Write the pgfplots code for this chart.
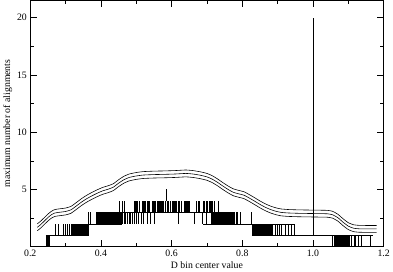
\documentclass[border=0pt]{standalone}
\usepackage{fontspec}
\setmainfont{Liberation Serif}
\usepackage{pgfplots}
\pgfplotsset{compat=1.18}
\pgfplotsset{steps/.style={draw=none, mark=none, forget plot,
  error bars/.cd, y dir=plus, y fixed=1, error mark=none,
  error bar style={draw=black, solid, line width=0.55pt}}}
\begin{document}
\begin{tikzpicture}
\begin{axis}[
  scale only axis, width=360bp, height=251bp,
  xmin=0.2, xmax=1.2, ymin=0, ymax=21.5,
  xtick={0.2,0.4,0.6,0.8,1.0,1.2}, minor x tick num=1,
  ytick={5,10,15,20}, minor ytick={2.5,7.5,12.5,17.5},
  tick align=inside, xtick pos=both, ytick pos=both,
  xticklabel pos=lower, yticklabel pos=left,
  major tick length=6.5bp, minor tick length=3.5bp,
  every tick/.style={black, line width=0.6pt},
  axis line style={line width=0.8pt},
  /pgf/number format/assume math mode=true,
  x tick label style={/pgf/number format/.cd, fixed, fixed zerofill, precision=1},
  tick label style={font=\fontsize{10}{12}\selectfont},
  label style={font=\fontsize{10}{12}\selectfont},
  xlabel={D bin center value}, ylabel={maximum number of alignments},
  xlabel style={yshift=2bp}, ylabel style={yshift=-2bp},
]
% smooth envelope curves
\addplot[black, line width=0.6pt, smooth, tension=0.3] coordinates {
(0.220,2.00)(0.230,2.25)(0.240,2.55)(0.250,2.85)(0.260,3.10)(0.270,3.25)(0.285,3.32)(0.300,3.38)(0.315,3.52)(0.330,3.85)(0.345,4.20)(0.360,4.50)(0.375,4.75)(0.390,4.98)(0.405,5.18)(0.420,5.32)(0.435,5.50)(0.450,5.85)(0.465,6.15)(0.480,6.35)(0.500,6.48)(0.520,6.56)(0.550,6.60)(0.580,6.62)(0.610,6.65)(0.640,6.70)(0.660,6.65)(0.680,6.55)(0.700,6.40)(0.715,6.20)(0.730,5.92)(0.745,5.60)(0.760,5.30)(0.775,5.05)(0.790,4.92)(0.805,4.80)(0.820,4.55)(0.835,4.28)(0.850,4.00)(0.865,3.75)(0.880,3.55)(0.895,3.40)(0.910,3.30)(0.930,3.25)(0.960,3.22)(1.000,3.20)(1.040,3.18)(1.055,3.10)(1.070,2.85)(1.085,2.45)(1.100,2.10)(1.115,1.92)(1.130,1.87)(1.150,1.86)(1.180,1.86)};
\addplot[black, line width=0.6pt, smooth, tension=0.3] coordinates {
(0.220,1.70)(0.230,1.95)(0.240,2.25)(0.250,2.55)(0.260,2.80)(0.270,2.95)(0.285,3.02)(0.300,3.08)(0.315,3.22)(0.330,3.55)(0.345,3.90)(0.360,4.20)(0.375,4.45)(0.390,4.68)(0.405,4.88)(0.420,5.02)(0.435,5.20)(0.450,5.55)(0.465,5.85)(0.480,6.05)(0.500,6.18)(0.520,6.26)(0.550,6.30)(0.580,6.32)(0.610,6.35)(0.640,6.40)(0.660,6.35)(0.680,6.25)(0.700,6.10)(0.715,5.90)(0.730,5.62)(0.745,5.30)(0.760,5.00)(0.775,4.75)(0.790,4.62)(0.805,4.50)(0.820,4.25)(0.835,3.98)(0.850,3.70)(0.865,3.45)(0.880,3.25)(0.895,3.10)(0.910,3.00)(0.930,2.95)(0.960,2.92)(1.000,2.90)(1.040,2.88)(1.055,2.80)(1.070,2.55)(1.085,2.15)(1.100,1.80)(1.115,1.62)(1.130,1.57)(1.150,1.56)(1.180,1.56)};
\addplot[black, line width=0.6pt, smooth, tension=0.3] coordinates {
(0.220,1.40)(0.230,1.65)(0.240,1.95)(0.250,2.25)(0.260,2.50)(0.270,2.65)(0.285,2.72)(0.300,2.78)(0.315,2.92)(0.330,3.25)(0.345,3.60)(0.360,3.90)(0.375,4.15)(0.390,4.38)(0.405,4.58)(0.420,4.72)(0.435,4.90)(0.450,5.25)(0.465,5.55)(0.480,5.75)(0.500,5.88)(0.520,5.96)(0.550,6.00)(0.580,6.02)(0.610,6.05)(0.640,6.10)(0.660,6.05)(0.680,5.95)(0.700,5.80)(0.715,5.60)(0.730,5.32)(0.745,5.00)(0.760,4.70)(0.775,4.45)(0.790,4.32)(0.805,4.20)(0.820,3.95)(0.835,3.68)(0.850,3.40)(0.865,3.15)(0.880,2.95)(0.895,2.80)(0.910,2.70)(0.930,2.65)(0.960,2.62)(1.000,2.60)(1.040,2.58)(1.055,2.50)(1.070,2.25)(1.085,1.85)(1.100,1.50)(1.115,1.32)(1.130,1.27)(1.150,1.26)(1.180,1.26)};
% rest levels
\addplot[black, line width=0.5pt] coordinates {(0.244,1)(0.366,1)};
\addplot[black, line width=0.5pt] coordinates {(0.827,1)(1.170,1)};
\addplot[black, line width=0.5pt] coordinates {(0.364,2)(0.461,2)};
\addplot[black, line width=0.5pt] coordinates {(0.690,2)(0.950,2)};
\addplot[black, line width=0.5pt] coordinates {(0.388,3)(0.735,3)};
% spike at D = 1
\addplot[black, line width=0.6pt] coordinates {(1.0,1)(1.0,20)};
% steps 0 -> 1
\addplot[steps] coordinates {
(0.2440,0)(0.2455,0)(0.2470,0)(0.2485,0)(0.2500,0)(0.2515,0)(0.2530,0)(0.2545,0)
(1.056,0)(1.059,0)(1.061,0)(1.064,0)(1.066,0)(1.069,0)(1.072,0)(1.075,0)(1.077,0)(1.080,0)(1.083,0)(1.086,0)(1.088,0)(1.091,0)(1.094,0)(1.097,0)(1.100,0)(1.104,0)(1.109,0)(1.116,0)(1.121,0)(1.127,0)(1.136,0)(1.161,0)};
% steps 1 -> 2
\addplot[steps] coordinates {
(0.272,1)(0.279,1)(0.2925,1)(0.299,1)(0.306,1)(0.311,1)(0.316,1)
(0.3200,1)(0.3215,1)(0.3230,1)(0.3245,1)(0.3260,1)(0.3275,1)(0.3290,1)(0.3305,1)(0.3320,1)(0.3335,1)(0.3350,1)(0.3365,1)(0.3380,1)(0.3395,1)(0.3410,1)(0.3425,1)(0.3440,1)(0.3455,1)(0.3470,1)(0.3485,1)(0.3500,1)(0.3515,1)(0.3530,1)(0.3545,1)(0.3560,1)(0.3575,1)(0.3590,1)(0.3605,1)(0.3620,1)(0.3635,1)(0.3650,1)
(0.8270,1)(0.8288,1)(0.8306,1)(0.8324,1)(0.8342,1)(0.8360,1)(0.8378,1)(0.8396,1)(0.8414,1)(0.8432,1)(0.8450,1)(0.8468,1)(0.8486,1)(0.8504,1)(0.8522,1)(0.8540,1)(0.8558,1)(0.8576,1)(0.8594,1)(0.8612,1)(0.8630,1)(0.8648,1)(0.8666,1)(0.8684,1)(0.8702,1)(0.8720,1)(0.8738,1)(0.8756,1)(0.8774,1)(0.8800,1)(0.8830,1)(0.8860,1)
(0.893,1)(0.899,1)(0.904,1)(0.910,1)(0.921,1)(0.929,1)(0.938,1)(0.948,1)};
% steps 2 -> 3
\addplot[steps] coordinates {
(0.364,2)(0.369,2)
(0.3880,2)(0.3895,2)(0.3910,2)(0.3925,2)(0.3940,2)(0.3955,2)(0.3970,2)(0.3985,2)(0.4000,2)(0.4015,2)(0.4030,2)(0.4045,2)(0.4060,2)(0.4075,2)(0.4090,2)(0.4105,2)(0.4120,2)(0.4135,2)(0.4150,2)(0.4165,2)(0.4180,2)(0.4195,2)(0.4210,2)(0.4225,2)(0.4240,2)(0.4255,2)(0.4270,2)(0.4285,2)(0.4300,2)(0.4315,2)(0.4330,2)(0.4345,2)(0.4360,2)(0.4375,2)(0.4390,2)(0.4405,2)(0.4420,2)(0.4435,2)(0.4450,2)(0.4465,2)(0.4480,2)(0.4495,2)(0.4510,2)(0.4525,2)(0.4540,2)(0.4555,2)(0.4570,2)(0.4585,2)(0.4600,2)
(0.465,2)(0.470,2)(0.475,2)(0.479,2)(0.484,2)(0.489,2)(0.494,2)(0.500,2)(0.506,2)(0.514,2)(0.521,2)(0.530,2)(0.539,2)(0.552,2)(0.619,2)(0.664,2)(0.687,2)(0.697,2)
(0.7110,2)(0.7126,2)(0.7142,2)(0.7158,2)(0.7174,2)(0.7190,2)(0.7206,2)(0.7222,2)(0.7238,2)(0.7254,2)(0.7270,2)(0.7286,2)(0.7302,2)(0.7318,2)(0.7334,2)(0.7350,2)(0.7366,2)(0.7382,2)(0.7398,2)(0.7414,2)(0.7430,2)(0.7446,2)(0.7462,2)(0.7478,2)(0.7494,2)(0.7510,2)(0.7526,2)(0.7542,2)(0.7558,2)(0.7574,2)(0.7590,2)(0.7606,2)(0.7622,2)(0.7638,2)(0.7654,2)(0.7670,2)(0.7686,2)(0.7702,2)(0.7718,2)(0.7734,2)(0.7750,2)(0.7766,2)
(0.782,2)(0.787,2)(0.793,2)(0.826,2)};
% steps 3 -> 4
\addplot[steps] coordinates {
(0.452,3)(0.459,3)(0.466,3)(0.494,3)(0.497,3)(0.500,3)(0.503,3)(0.508,3)(0.517,3)(0.520,3)(0.523,3)(0.526,3)(0.531,3)(0.534,3)(0.536,3)(0.545,3)(0.548,3)(0.551,3)(0.554,3)(0.559,3)(0.561,3)(0.564,3)(0.568,3)(0.571,3)(0.573,3)(0.575,3)(0.577,3)(0.582,3)(0.587,3)(0.589,3)(0.591,3)(0.596,3)(0.601,3)(0.603,3)(0.605,3)(0.607,3)(0.610,3)(0.614,3)(0.619,3)(0.621,3)(0.623,3)(0.628,3)(0.637,3)(0.639,3)(0.641,3)(0.643,3)(0.645,3)(0.647,3)(0.649,3)(0.651,3)(0.670,3)(0.675,3)(0.679,3)(0.689,3)(0.691,3)(0.693,3)(0.698,3)(0.702,3)(0.707,3)(0.709,3)(0.712,3)(0.716,3)(0.720,3)(0.733,3)};
% step 4 -> 5
\addplot[steps] coordinates {(0.585,4)};
\end{axis}
\end{tikzpicture}
\end{document}
